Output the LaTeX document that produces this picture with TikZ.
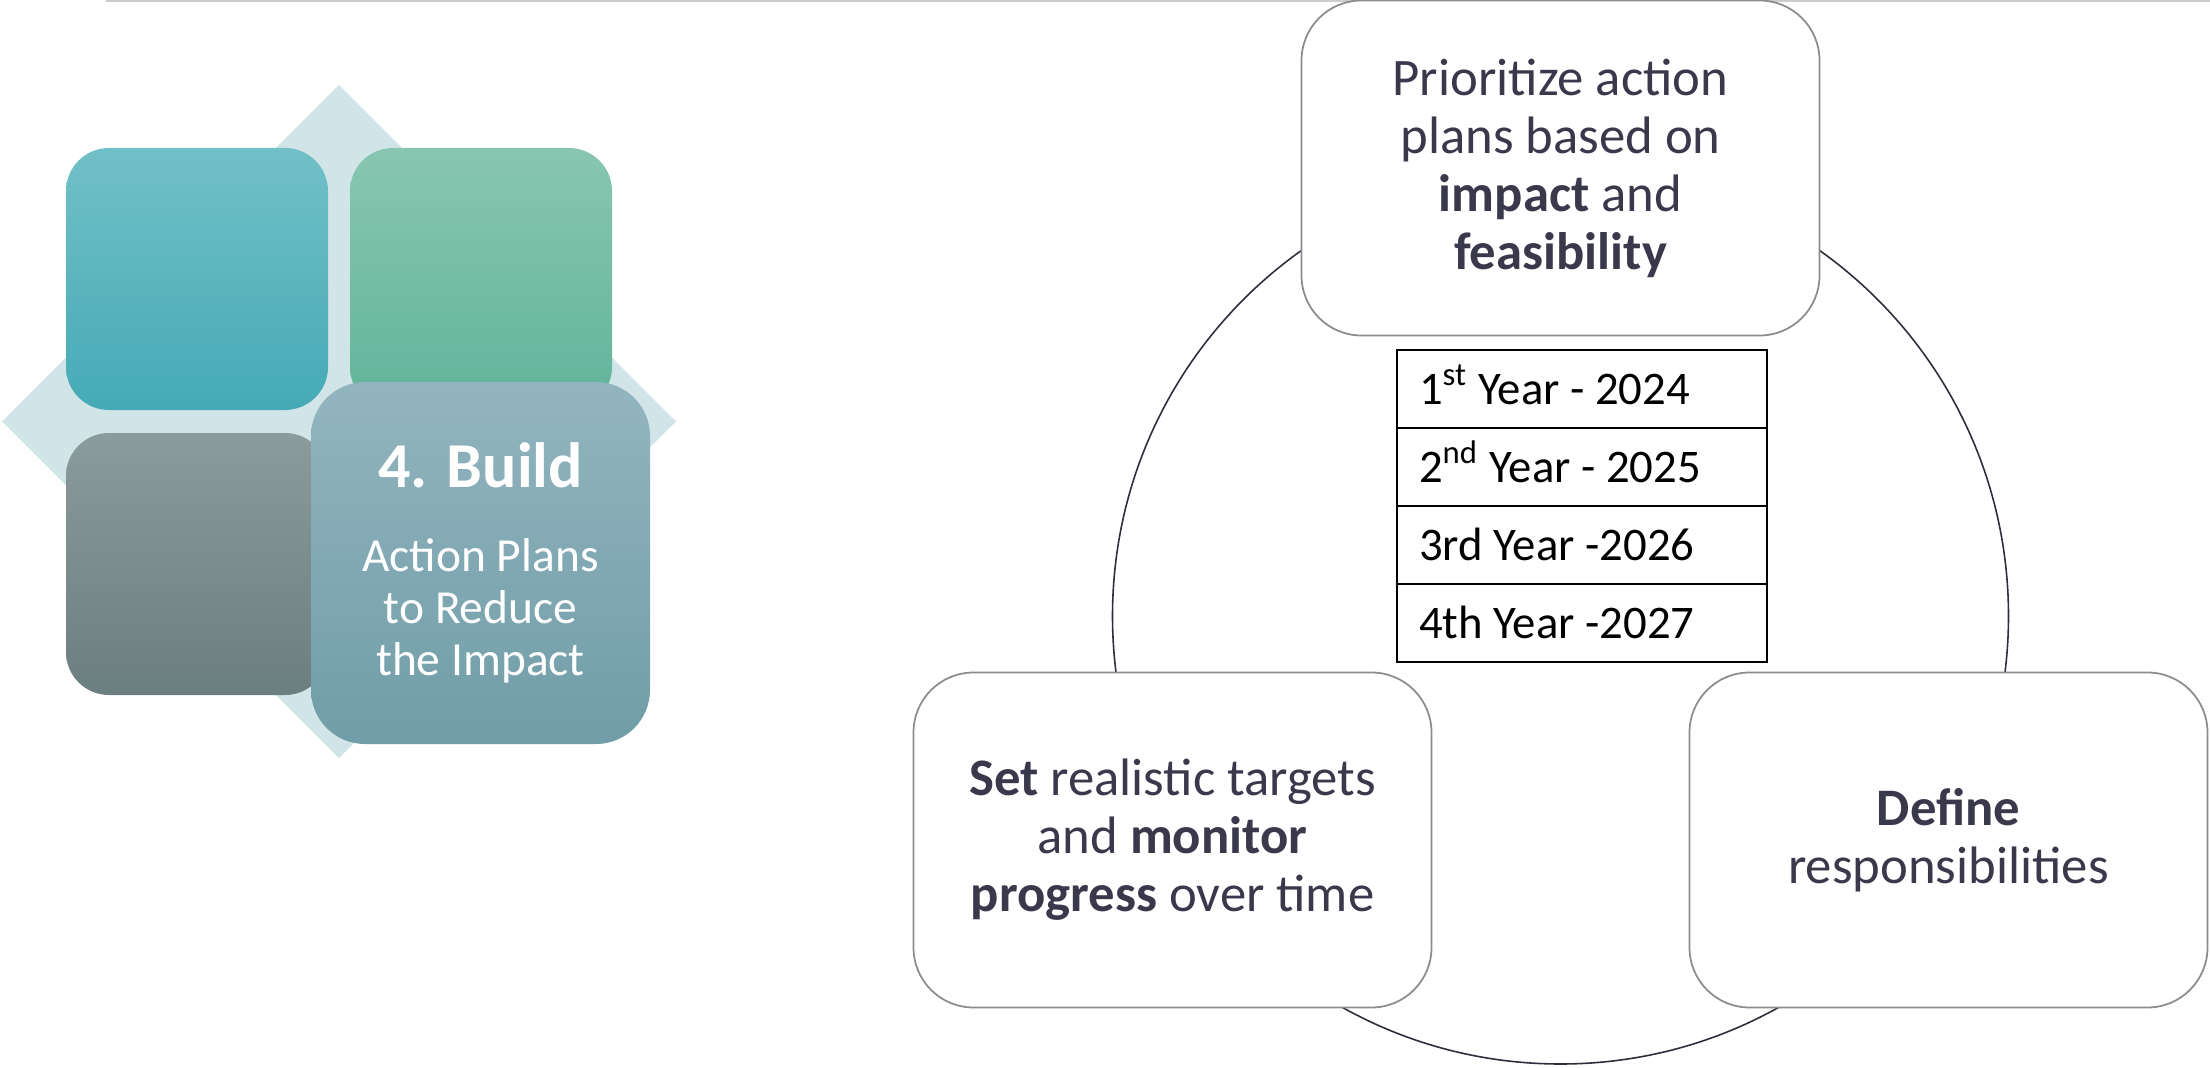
\documentclass[tikz,border=0pt]{standalone}
\usepackage{fontspec}
\setmainfont{Carlito}
\usetikzlibrary{positioning}
\definecolor{inkdark}{RGB}{58,57,75}
\definecolor{boxgray}{RGB}{140,140,140}
\definecolor{ringdark}{RGB}{45,45,60}
\definecolor{rulegray}{RGB}{205,205,205}
\definecolor{diamondpale}{RGB}{209,228,231}
\definecolor{tealtop}{RGB}{114,192,199}
\definecolor{tealbot}{RGB}{69,170,182}
\definecolor{greentop}{RGB}{136,198,177}
\definecolor{greenbot}{RGB}{97,180,154}
\definecolor{slatetop}{RGB}{140,155,155}
\definecolor{slatebot}{RGB}{107,126,128}
\definecolor{buildtop}{RGB}{147,181,191}
\definecolor{buildbot}{RGB}{112,157,167}
\begin{document}
\begin{tikzpicture}[
        stagebox/.style={draw=boxgray, line width=0.5pt, fill=white, rounded corners=0.6cm,
            minimum width=5.18cm, minimum height=3.35cm, align=center, text=inkdark,
            font=\fontsize{15}{16.5}\selectfont},
        tile/.style={rounded corners=0.43cm, minimum width=2.62cm, minimum height=2.62cm},
        yearrow/.style={draw, line width=0.7pt, minimum width=3.70cm, minimum height=0.78cm,
            inner xsep=0.22cm, text width=3.26cm, align=flush left, outer sep=0pt,
            text height=8.6pt, text depth=0pt, font=\fontsize{13.3}{15}\selectfont}
    ]
            \useasboundingbox (0,0) rectangle (22.10,10.67);
            \draw[rulegray, line width=0.6pt] (1.06,10.665)--(22.10,10.665);

            % left: four tiles on a diamond
            \fill[diamondpale] (3.39,9.82)--(6.76,6.455)--(3.39,3.09)--(0.02,6.455)--cycle;
            \node[tile, top color=tealtop, bottom color=tealbot] (tealtile) at (1.97,7.88) {};
            \node[tile, top color=greentop, bottom color=greenbot] (greentile) at (4.81,7.88) {};
            \node[tile, top color=slatetop, bottom color=slatebot] (slatetile) at (1.97,5.03) {};
            \node[tile, minimum width=3.39cm, minimum height=3.62cm, rounded corners=0.54cm,
                top color=buildtop, bottom color=buildbot, text=white, align=center,
                font=\fontsize{13.5}{14.8}\selectfont] (build) at (4.805,5.04)
                {{\fontsize{18.2}{22}\selectfont\bfseries 4. Build}\\[9.1pt]
                 Action Plans\\ to Reduce\\ the Impact};

            % right: cycle of three stages
            \coordinate (ctr) at (15.605,4.51);
            \draw[ringdark, line width=0.45pt] (ctr) circle (4.48);
            \node[stagebox] (prio) at (15.605,8.99)
                {Prioritize action\\ plans based on\\ \textbf{impact} and\\ \textbf{feasibility}};
            \node[stagebox] (targets) at (11.725,2.27)
                {\textbf{Set} realistic targets\\ and \textbf{monitor}\\ \textbf{progress} over time};
            \node[stagebox] (resp) at (19.485,2.27)
                {\textbf{Define}\\ responsibilities};

            % years table
            \node[yearrow] (row1) at (15.82,6.78) {1\textsuperscript{st} Year - 2024};
            \node[yearrow, below=0pt of row1] (row2) {2\textsuperscript{nd} Year - 2025};
            \node[yearrow, below=0pt of row2] (row3) {3rd Year -2026};
            \node[yearrow, below=0pt of row3] (row4) {4th Year -2027};
        \end{tikzpicture}
\end{document}
